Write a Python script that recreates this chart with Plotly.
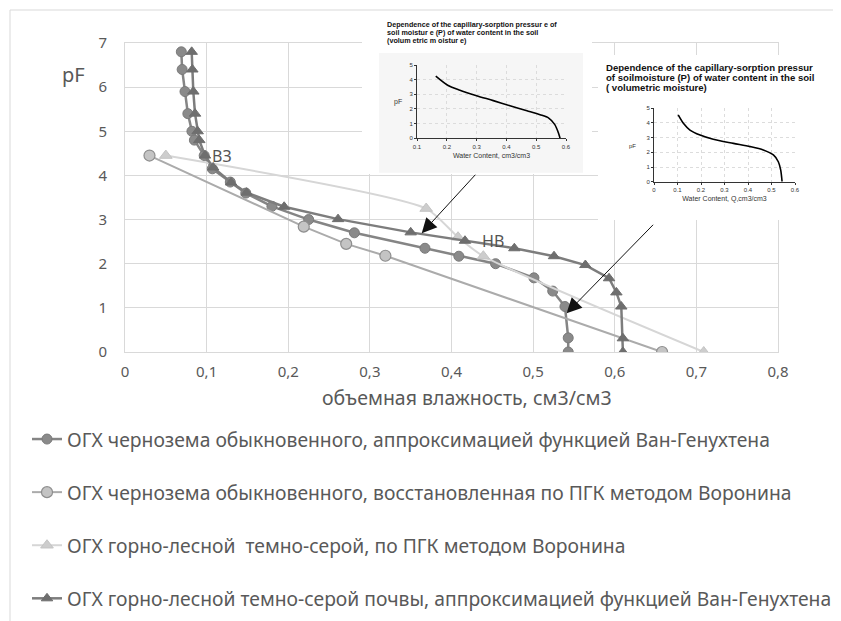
import plotly.graph_objects as go

W, H = 841, 621
OFF = 8  # page body margin of the html page

# ---------------- data ----------------
s1_name = "ОГХ чернозема обыкновенного, аппроксимацией функцией Ван-Генухтена"
s1_x = [0.069, 0.070, 0.0735, 0.077, 0.082, 0.085, 0.097, 0.107, 0.129, 0.148, 0.18,
        0.225, 0.281, 0.3675, 0.409, 0.454, 0.501, 0.524, 0.539, 0.543, 0.543]
s1_y = [6.8, 6.4, 5.9, 5.4, 5.0, 4.8, 4.45, 4.15, 3.85, 3.6, 3.3,
        3.0, 2.7, 2.35, 2.17, 2.0, 1.68, 1.38, 1.03, 0.32, 0.0]

s2_name = "ОГХ чернозема обыкновенного, восстановленная по ПГК методом Воронина"
s2_x = [0.030, 0.219, 0.271, 0.319, 0.658]
s2_y = [4.45, 2.84, 2.45, 2.18, 0.0]

s3_name = "ОГХ горно-лесной  темно-серой, по ПГК методом Воронина"
s3_x = [0.050, 0.369, 0.408, 0.439, 0.709]
s3_y = [4.45, 3.25, 2.60, 2.17, 0.0]

s4_name = "ОГХ горно-лесной темно-серой почвы, аппроксимацией функцией Ван-Генухтена"
s4_x = [0.0817, 0.0825, 0.0837, 0.0858, 0.089, 0.091, 0.098, 0.108, 0.130, 0.149, 0.195,
        0.261, 0.350, 0.4165, 0.477, 0.5256, 0.564, 0.593, 0.602, 0.608, 0.610, 0.610]
s4_y = [6.8, 6.4, 5.9, 5.4, 5.0, 4.8, 4.45, 4.18, 3.84, 3.61, 3.29,
        3.01, 2.71, 2.52, 2.35, 2.17, 1.97, 1.67, 1.35, 1.03, 0.31, 0.0]

x_ticks = [0, 0.1, 0.2, 0.3, 0.4, 0.5, 0.6, 0.7, 0.8]
x_tick_labels = ["0", "0,1", "0,2", "0,3", "0,4", "0,5", "0,6", "0,7", "0,8"]
y_ticks = [0, 1, 2, 3, 4, 5, 6, 7]

point_labels = ["ВЗ", "НВ"]
point_label_x = [0.119, 0.451]
point_label_y = [4.44, 2.51]

# inset 1
in1_x = [0.163, 0.2045, 0.244, 0.300, 0.356, 0.412, 0.469, 0.513, 0.542, 0.562, 0.575, 0.58]
in1_y = [4.24, 3.60, 3.28, 2.91, 2.57, 2.22, 1.88, 1.61, 1.38, 0.95, 0.35, 0.0]
in1_title = ["Dependence of the capillary-sorption pressur e of",
             "soil moistur e (P) of water content in the soil",
             "(volum etric m oistur e)"]
in1_xticks = [0.1, 0.2, 0.3, 0.4, 0.5, 0.6]

# inset 2
in2_x = [0.103, 0.125, 0.153, 0.196, 0.252, 0.338, 0.409, 0.465, 0.508, 0.529, 0.539, 0.545]
in2_y = [4.55, 3.98, 3.52, 3.18, 2.89, 2.61, 2.39, 2.16, 1.82, 1.36, 0.80, 0.0]
in2_title = ["Dependence of the capillary-sorption pressur",
             "of soilmoisture (P) of water content in the soil",
             "( volumetric moisture)"]
in2_xticks = [0, 0.1, 0.2, 0.3, 0.4, 0.5, 0.6]
inset_yticks = [0, 1, 2, 3, 4, 5]


def fx(p):
    return (p - OFF) / W


def fy(p):
    return 1 - (p - OFF) / H


FONT = "Noto Sans"
TXT = "#595959"
GRID = "#d9d9d9"
GRAYBOX = "#f6f6f6"

fig = go.Figure()

# main series
fig.add_trace(go.Scatter(x=s1_x, y=s1_y, name=s1_name, mode="lines+markers",
                         legendgroup="g1",
                         line=dict(color="#858585", width=2.5),
                         marker=dict(symbol="circle", size=10, color="#8a8a8a",
                                     line=dict(color="#7a7a7a", width=1))))
fig.add_trace(go.Scatter(x=s2_x, y=s2_y, name=s2_name, mode="lines+markers",
                         legendgroup="g2",
                         line=dict(color="#ababab", width=2),
                         marker=dict(symbol="circle", size=11, color="#c4c4c4",
                                     line=dict(color="#8e8e8e", width=1.2))))
fig.add_trace(go.Scatter(x=s3_x, y=s3_y, name=s3_name, mode="lines+markers",
                         legendgroup="g3",
                         line=dict(color="#d6d6d6", width=2, shape="spline", smoothing=0.6),
                         marker=dict(symbol="triangle-up", size=11, color="#cdcdcd",
                                     line=dict(color="#c4c4c4", width=1))))
fig.add_trace(go.Scatter(x=s4_x, y=s4_y, name=s4_name, mode="lines+markers",
                         legendgroup="g4",
                         line=dict(color="#7d7d7d", width=2.5),
                         marker=dict(symbol="triangle-up", size=10, color="#6e6e6e",
                                     line=dict(color="#6e6e6e", width=1))))

# cover subplots (white background above main grid)
for ax in ["2", "4"]:
    fig.add_trace(go.Scatter(x=[None], y=[None], xaxis="x" + ax, yaxis="y" + ax,
                             showlegend=False, hoverinfo="skip"))

# inset curves
fig.add_trace(go.Scatter(x=in1_x, y=in1_y, xaxis="x3", yaxis="y3", mode="lines",
                         line=dict(color="black", width=1.6, shape="spline", smoothing=0.8),
                         showlegend=False, hoverinfo="skip"))
fig.add_trace(go.Scatter(x=in2_x, y=in2_y, xaxis="x5", yaxis="y5", mode="lines",
                         line=dict(color="black", width=1.6, shape="spline", smoothing=0.8),
                         showlegend=False, hoverinfo="skip"))

main_axis_common = dict(showgrid=True, gridcolor=GRID, gridwidth=1, zeroline=False,
                        showline=True, linecolor=GRID, linewidth=1, mirror=True,
                        ticks="outside", tickcolor="rgba(0,0,0,0)",
                        tickfont=dict(family=FONT, size=15, color=TXT))

inset_axis_common = dict(showgrid=True, gridcolor="#dcdcdc", griddash="dot", gridwidth=1,
                         zeroline=False, showline=True, linecolor="#333333", linewidth=1,
                         ticks="outside", ticklen=2, tickcolor="#333333",
                         tickfont=dict(family="Liberation Sans", size=6, color="#333333"))

cov1 = (362, 592, 12, 174)
cov2 = (598, 860, 55, 220)

fig.update_layout(
    width=W, height=H,
    margin=dict(l=0, r=0, t=0, b=0, autoexpand=False),
    paper_bgcolor="white", plot_bgcolor="white",
    xaxis=dict(domain=[fx(125), fx(778)], range=[0, 0.8], tickvals=x_ticks,
               ticktext=x_tick_labels, ticklen=6, **main_axis_common),
    yaxis=dict(domain=[fy(352), fy(43)], range=[0, 7], tickvals=y_ticks, ticklen=14,
               **main_axis_common),
    xaxis2=dict(domain=[fx(cov1[0]), fx(cov1[1])], range=[0, 1], visible=False, anchor="y2"),
    yaxis2=dict(domain=[fy(cov1[3]), fy(cov1[2])], range=[0, 1], visible=False, anchor="x2"),
    xaxis3=dict(domain=[fx(417), fx(566)], range=[0.1, 0.6], tickvals=in1_xticks, anchor="y3",
                title=dict(text="Water Content, cm3/cm3",
                           font=dict(family="Liberation Sans", size=7, color="#333333"),
                           standoff=4),
                **inset_axis_common),
    yaxis3=dict(domain=[fy(138.3), fy(65)], range=[0, 5], tickvals=inset_yticks, anchor="x3",
                **inset_axis_common),
    xaxis4=dict(domain=[fx(cov2[0]), min(1, fx(cov2[1]))], range=[0, 1], visible=False, anchor="y4"),
    yaxis4=dict(domain=[fy(cov2[3]), fy(cov2[2])], range=[0, 1], visible=False, anchor="x4"),
    xaxis5=dict(domain=[fx(654), fx(795)], range=[0, 0.6], tickvals=in2_xticks, anchor="y5",
                title=dict(text="Water Content, Q,cm3/cm3",
                           font=dict(family="Liberation Sans", size=7, color="#333333"),
                           standoff=4),
                **inset_axis_common),
    yaxis5=dict(domain=[fy(181.7), fy(108.3)], range=[0, 5], tickvals=inset_yticks, anchor="x5",
                **inset_axis_common),
    showlegend=True,
    legend=dict(x=fx(27), y=fy(420), xanchor="left", yanchor="top",
                font=dict(family=FONT, size=19.3, color=TXT),
                tracegroupgap=25, bgcolor="rgba(0,0,0,0)"),
    hovermode=False,
)

# frame of the chart area
fig.add_shape(type="rect", xref="paper", yref="paper", x0=fx(10), x1=fx(870), y0=fy(650), y1=fy(10),
              line=dict(color="#d9d9d9", width=1), fillcolor="rgba(0,0,0,0)", layer="above")

# grey panel of inset 1 (inside cover subplot) and its plot area
fig.add_shape(type="rect", xref="x2", yref="y2",
              x0=(379 - cov1[0]) / (cov1[1] - cov1[0]), x1=(583 - cov1[0]) / (cov1[1] - cov1[0]),
              y0=(cov1[3] - 172.7) / (cov1[3] - cov1[2]), y1=(cov1[3] - 53) / (cov1[3] - cov1[2]),
              line=dict(width=0), fillcolor=GRAYBOX, layer="below")
fig.add_shape(type="rect", xref="x3", yref="y3", x0=0.1, x1=0.6, y0=0, y1=5,
              line=dict(width=0), fillcolor=GRAYBOX, layer="below")

ann = []
C = dict(xanchor="center", yanchor="middle", showarrow=False)
# main pF label and x title
ann.append(dict(text="pF", x=fx(73), y=fy(74), xref="paper", yref="paper",
                font=dict(family=FONT, size=20, color=TXT), **C))
ann.append(dict(text="объемная влажность, см3/см3", x=fx(467), y=fy(397), xref="paper",
                yref="paper", font=dict(family=FONT, size=19.5, color=TXT), **C))
for t, xv, yv in zip(point_labels, point_label_x, point_label_y):
    ann.append(dict(text=t, x=xv, y=yv, xref="x", yref="y",
                    font=dict(family=FONT, size=16, color="#555555"), **C))
# inset titles
for i, t in enumerate(in1_title):
    ann.append(dict(text="<b>" + t + "</b>", x=fx(385), y=fy(24 + 8.1 * i), xref="paper",
                    yref="paper", xanchor="left", yanchor="middle", showarrow=False,
                    font=dict(family="Liberation Sans", size=7.2, color="#111111")))
for i, t in enumerate(in2_title):
    ann.append(dict(text="<b>" + t + "</b>", x=fx(604), y=fy(68 + 9.6 * i), xref="paper",
                    yref="paper", xanchor="left", yanchor="middle", showarrow=False,
                    font=dict(family="Liberation Sans", size=9.6, color="#111111")))
# inset pF labels
ann.append(dict(text="pF", x=fx(398), y=fy(101.7), xref="paper", yref="paper",
                font=dict(family="Liberation Sans", size=7, color="#333333"), **C))
ann.append(dict(text="pF", x=fx(632), y=fy(145.7), xref="paper", yref="paper",
                font=dict(family="Liberation Sans", size=6, color="#333333"), **C))
# arrows
ann.append(dict(x=0.3635, y=2.69, xref="x", yref="y", ax=55, ay=-60, showarrow=True,
                arrowhead=2, arrowsize=3, arrowwidth=1, arrowcolor="#111111", text=""))
ann.append(dict(x=0.541, y=0.877, xref="x", yref="y", ax=88, ay=-90, showarrow=True,
                arrowhead=2, arrowsize=3, arrowwidth=1, arrowcolor="#111111", text=""))
fig.update_layout(annotations=ann)

fig.write_html("out.html")
